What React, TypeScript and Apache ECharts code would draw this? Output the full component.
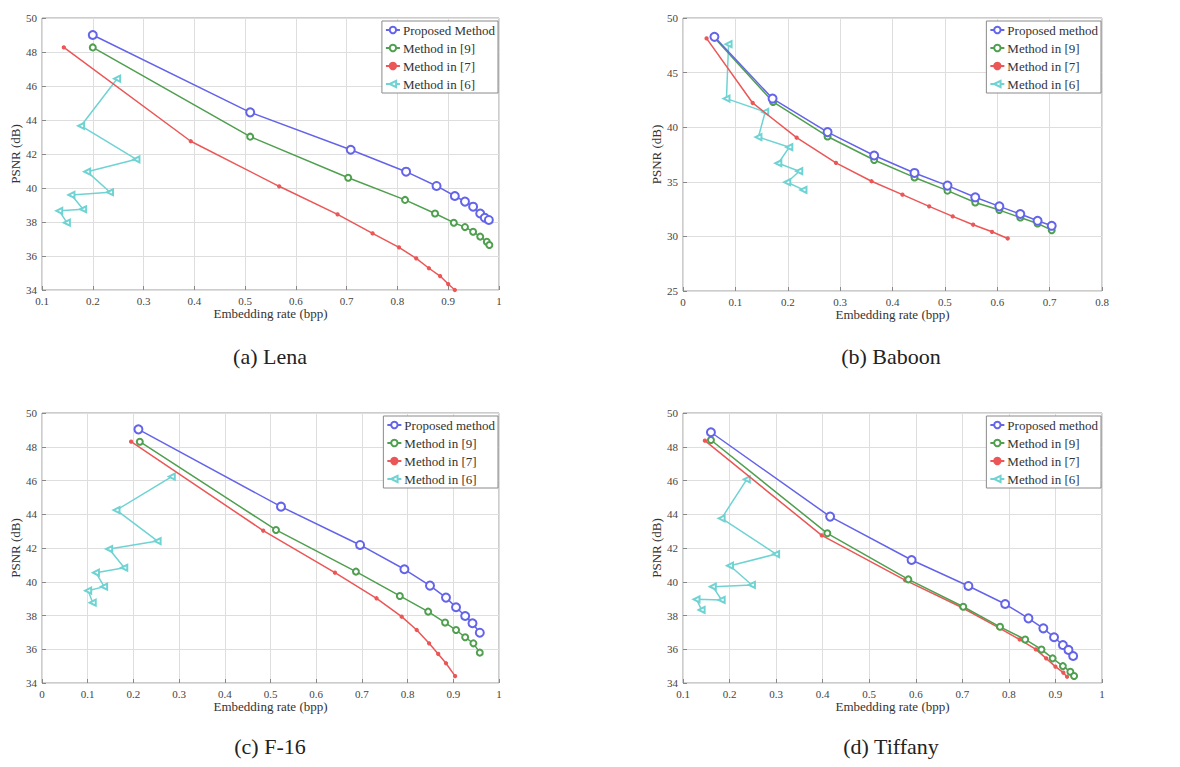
import React, { useEffect, useRef } from "react";
import * as echarts from "echarts";

// ---- Data (x = embedding rate in bpp, y = PSNR in dB) ----
const lenaProposed = [[0.2, 49.0], [0.51, 44.45], [0.708, 42.25], [0.817, 40.96], [0.877, 40.12], [0.913, 39.53], [0.933, 39.2], [0.949, 38.9], [0.963, 38.5], [0.972, 38.25], [0.98, 38.12]];
const lenaM9 = [[0.2, 48.27], [0.51, 43.02], [0.703, 40.6], [0.815, 39.3], [0.874, 38.5], [0.911, 37.96], [0.933, 37.7], [0.949, 37.43], [0.963, 37.14], [0.976, 36.84], [0.981, 36.65]];
const lenaM7 = [[0.143, 48.27], [0.393, 42.75], [0.567, 40.1], [0.682, 38.45], [0.751, 37.33], [0.803, 36.51], [0.837, 35.86], [0.862, 35.28], [0.884, 34.82], [0.9, 34.35], [0.913, 34.0]];
const lenaM6 = [[0.248, 46.43], [0.177, 43.66], [0.286, 41.69], [0.189, 40.96], [0.234, 39.75], [0.158, 39.59], [0.181, 38.75], [0.134, 38.66], [0.149, 37.96]];

const baboonProposed = [[0.06, 48.28], [0.171, 42.62], [0.276, 39.55], [0.365, 37.41], [0.442, 35.81], [0.505, 34.65], [0.558, 33.58], [0.604, 32.75], [0.644, 32.05], [0.677, 31.43], [0.704, 30.97]];
const baboonM9 = [[0.06, 48.2], [0.172, 42.31], [0.276, 39.15], [0.365, 37.0], [0.442, 35.4], [0.505, 34.19], [0.558, 33.1], [0.604, 32.41], [0.644, 31.73], [0.677, 31.18], [0.704, 30.57]];
const baboonM7 = [[0.045, 48.13], [0.133, 42.22], [0.217, 39.04], [0.292, 36.74], [0.36, 35.05], [0.419, 33.82], [0.47, 32.75], [0.515, 31.83], [0.554, 31.07], [0.59, 30.42], [0.62, 29.81]];
const baboonM6 = [[0.087, 47.6], [0.083, 42.62], [0.157, 41.4], [0.144, 39.1], [0.203, 38.17], [0.182, 36.7], [0.222, 35.97], [0.199, 34.96], [0.23, 34.26]];

const f16Proposed = [[0.211, 49.03], [0.523, 44.45], [0.696, 42.18], [0.793, 40.74], [0.849, 39.77], [0.884, 39.06], [0.906, 38.49], [0.926, 37.97], [0.942, 37.54], [0.958, 36.98]];
const f16M9 = [[0.214, 48.3], [0.512, 43.07], [0.687, 40.6], [0.783, 39.16], [0.845, 38.23], [0.882, 37.58], [0.906, 37.14], [0.926, 36.71], [0.944, 36.35], [0.958, 35.8]];
const f16M7 = [[0.195, 48.3], [0.484, 43.03], [0.641, 40.54], [0.732, 39.02], [0.787, 37.93], [0.82, 37.14], [0.847, 36.35], [0.867, 35.72], [0.884, 35.17], [0.904, 34.41]];
const f16M6 = [[0.284, 46.23], [0.163, 44.25], [0.253, 42.41], [0.147, 41.94], [0.18, 40.83], [0.118, 40.54], [0.136, 39.71], [0.101, 39.47], [0.111, 38.76]];

const tiffanyProposed = [[0.16, 48.86], [0.416, 43.86], [0.591, 41.29], [0.713, 39.75], [0.792, 38.68], [0.842, 37.83], [0.874, 37.24], [0.897, 36.71], [0.916, 36.25], [0.928, 35.96], [0.938, 35.6]];
const tiffanyM9 = [[0.16, 48.4], [0.41, 42.87], [0.584, 40.14], [0.702, 38.52], [0.781, 37.33], [0.835, 36.58], [0.87, 35.99], [0.894, 35.46], [0.916, 35.0], [0.932, 34.67], [0.94, 34.41]];
const tiffanyM7 = [[0.147, 48.36], [0.398, 42.75], [0.577, 40.1], [0.698, 38.49], [0.777, 37.3], [0.823, 36.58], [0.858, 35.99], [0.88, 35.46], [0.9, 34.97], [0.917, 34.61], [0.925, 34.37]];
const tiffanyM6 = [[0.237, 46.07], [0.183, 43.76], [0.3, 41.64], [0.201, 40.95], [0.248, 39.81], [0.164, 39.71], [0.183, 38.92], [0.129, 38.96], [0.14, 38.33]];

const captions = ["(a) Lena", "(b) Baboon", "(c) F-16", "(d) Tiffany"];
const legendNamesA = ["Proposed Method", "Method in [9]", "Method in [7]", "Method in [6]"];
const legendNamesB = ["Proposed method", "Method in [9]", "Method in [7]", "Method in [6]"];
const xRanges = [[0.1, 1], [0, 0.8], [0, 1], [0.1, 1]];
const yRanges = [[34, 50, 2], [25, 50, 5], [34, 50, 2], [34, 50, 2]];

const SERIF = "'Liberation Serif', 'DejaVu Serif', serif";
const COLORS = ["#6464ea", "#4f9f4f", "#ec5656", "#6fd3d3"];

export default function App() {
  const ref = useRef<HTMLDivElement>(null);
  useEffect(() => {
    document.body.style.margin = "0";
    if (!ref.current) return;
    const chart = echarts.init(ref.current, undefined, { renderer: "svg" });

    const grids = [
      { left: 42, top: 18, width: 457, height: 272 },
      { left: 683, top: 18, width: 419, height: 273 },
      { left: 42, top: 413, width: 457, height: 270 },
      { left: 683, top: 413, width: 419, height: 270 },
    ];
    const panels = [
      { names: legendNamesA, data: [lenaProposed, lenaM9, lenaM7, lenaM6] },
      { names: legendNamesB, data: [baboonProposed, baboonM9, baboonM7, baboonM6] },
      { names: legendNamesB, data: [f16Proposed, f16M9, f16M7, f16M6] },
      { names: legendNamesB, data: [tiffanyProposed, tiffanyM9, tiffanyM7, tiffanyM6] },
    ];
    const symbolOf = [
      { symbol: "emptyCircle", size: 8 },
      { symbol: "emptyCircle", size: 6 },
      { symbol: "circle", size: 3 },
      { symbol: "emptyTriangle", size: 6, rotate: 90 },
    ];

    const series: any[] = [];
    panels.forEach((p, gi) => {
      p.data.forEach((d, si) => {
        series.push({
          type: "line",
          name: p.names[si],
          xAxisIndex: gi,
          yAxisIndex: gi,
          data: d,
          symbol: symbolOf[si].symbol,
          symbolSize: symbolOf[si].size,
          symbolRotate: symbolOf[si].rotate || 0,
          showSymbol: true,
          lineStyle: { color: COLORS[si], width: 1.5 },
          itemStyle: { color: COLORS[si], borderColor: COLORS[si], borderWidth: 1.3 },
          z: 10 - si,
        });
      });
    });

    const captionPos = [
      [270, 356],
      [891, 356],
      [270, 746],
      [891, 746],
    ];

    chart.setOption({
      animation: false,
      backgroundColor: "#ffffff",
      grid: grids.map((g) => ({ ...g, show: true, borderColor: "#9a9a9a", borderWidth: 1, containLabel: false })),
      xAxis: grids.map((_, i) => ({
        type: "value",
        gridIndex: i,
        min: xRanges[i][0],
        max: xRanges[i][1],
        interval: 0.1,
        name: "Embedding rate (bpp)",
        nameLocation: "middle",
        nameGap: 17,
        nameTextStyle: { fontFamily: SERIF, fontSize: 13, color: "#333" },
        axisLine: { show: false },
        axisTick: { show: true, inside: true, length: 4, lineStyle: { color: "#888" } },
        axisLabel: { fontFamily: SERIF, fontSize: 11, color: "#444", margin: 5 },
        splitLine: { show: true, lineStyle: { color: "#dedede", width: 1 } },
      })),
      yAxis: grids.map((_, i) => ({
        type: "value",
        gridIndex: i,
        min: yRanges[i][0],
        max: yRanges[i][1],
        interval: yRanges[i][2],
        name: "PSNR (dB)",
        nameLocation: "middle",
        nameGap: 19,
        nameTextStyle: { fontFamily: SERIF, fontSize: 13, color: "#333" },
        axisLine: { show: false },
        axisTick: { show: true, inside: true, length: 4, lineStyle: { color: "#888" } },
        axisLabel: { fontFamily: SERIF, fontSize: 11, color: "#444", margin: 5 },
        splitLine: { show: true, lineStyle: { color: "#dedede", width: 1 } },
      })),
      legend: grids.map((g, i) => ({
        data: panels[i].names,
        orient: "vertical",
        right: 1180 - (g.left + g.width) + 1,
        top: g.top + 3,
        backgroundColor: "#ffffff",
        borderColor: "#8a8a8a",
        borderWidth: 1,
        padding: [2, 3, 2, 3],
        itemGap: 4,
        itemWidth: 14,
        itemHeight: 8,
        textStyle: { fontFamily: SERIF, fontSize: 13, color: "#333", lineHeight: 14, padding: [0, 0, 0, -2] },
      })),
      graphic: captions.map((c, i) => ({
        type: "text",
        x: captionPos[i][0],
        y: captionPos[i][1],
        style: { text: c, fontFamily: SERIF, fontSize: 22, fill: "#222", textAlign: "center", textVerticalAlign: "middle" },
      })),
      series,
    });
    return () => chart.dispose();
  }, []);
  return <div ref={ref} style={{ width: 1180, height: 767 }} />;
}
